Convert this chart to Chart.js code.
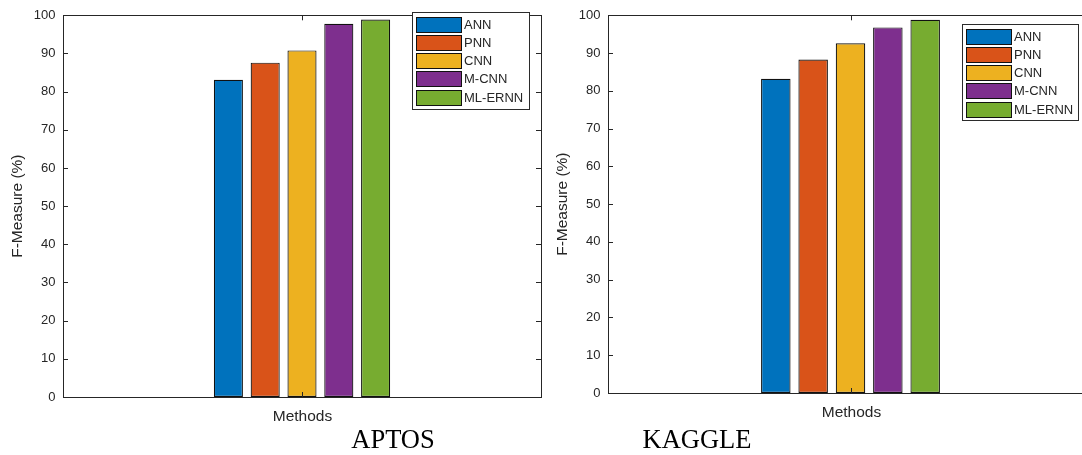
<!DOCTYPE html>
<html>
<head>
  <title>F-Measure comparison</title>
  <script src="https://cdn.jsdelivr.net/npm/chart.js"></script>
  <style>
    html, body { margin: 0; padding: 0; background: #fff; overflow: hidden; }
    #wrap { position: relative; width: 1082px; height: 455px; overflow: hidden; }
    canvas { position: absolute; top: 0; }
  </style>
</head>
<body>
  <div id="wrap">
    <canvas id="aptosChart" width="542" height="455" style="left:0px"></canvas>
    <canvas id="kaggleChart" width="553" height="455" style="left:541px"></canvas>
  </div>

  <script>
    // data
    const methods = ['ANN', 'PNN', 'CNN', 'M-CNN', 'ML-ERNN'];
    const aptosValues = [83.1, 87.6, 90.8, 97.8, 98.9];
    const kaggleValues = [83.2, 88.3, 92.6, 96.8, 98.8];
    const colors = ['#0072BD', '#D95319', '#EDB120', '#7E2F8E', '#77AC30'];
    const xLabel = 'Methods';
    const yLabel = 'F-Measure (%)';
    const yMin = 0, yMax = 100, yStep = 10;

    const axisColor = '#262626';
    const sans = '"Liberation Sans", Arial, sans-serif';
    const serif = '"Liberation Serif", "Times New Roman", serif';

    // matlab style box, inward ticks, labels, legend and caption
    const matlabLook = {
      id: 'matlabLook',
      afterDraw(chart, args, opts) {
        const ctx = chart.ctx;
        const a = chart.chartArea;
        const y = chart.scales.y;
        const x = chart.scales.x;
        ctx.save();
        ctx.strokeStyle = axisColor;
        ctx.lineWidth = 1;
        ctx.strokeRect(Math.round(a.left) + 0.5, Math.round(a.top) + 0.5,
          Math.round(a.right - a.left), Math.round(a.bottom - a.top));

        ctx.beginPath();
        y.ticks.forEach(t => {
          const py = Math.round(y.getPixelForValue(t.value)) + 0.5;
          ctx.moveTo(a.left, py); ctx.lineTo(a.left + 5, py);
          ctx.moveTo(a.right, py); ctx.lineTo(a.right - 5, py);
        });
        const px = Math.round(x.getPixelForValue(0)) + 0.5;
        ctx.moveTo(px, a.bottom); ctx.lineTo(px, a.bottom - 5);
        ctx.moveTo(px, a.top); ctx.lineTo(px, a.top + 5);
        ctx.stroke();

        // axis titles
        ctx.fillStyle = axisColor;
        ctx.font = '15.5px ' + sans;
        ctx.textAlign = 'center';
        ctx.textBaseline = 'alphabetic';
        ctx.fillText(xLabel, px, a.bottom + 24);
        ctx.save();
        ctx.translate(a.left - 45, (a.top + a.bottom) / 2);
        ctx.rotate(-Math.PI / 2);
        ctx.textBaseline = 'middle';
        ctx.fillText(yLabel, 0, 0);
        ctx.restore();

        // legend box
        const L = opts.legend;
        ctx.fillStyle = '#fff';
        ctx.fillRect(L.x, L.y, L.w, L.h);
        ctx.strokeStyle = '#2b2b2b';
        ctx.strokeRect(L.x + 0.5, L.y + 0.5, L.w, L.h);
        ctx.font = '13px ' + sans;
        ctx.textAlign = 'left';
        ctx.textBaseline = 'middle';
        chart.data.datasets.forEach((ds, i) => {
          const top = Math.round(L.y + 4.5 + i * 18.3);
          ctx.fillStyle = ds.backgroundColor;
          ctx.fillRect(L.x + 4, top, 45, 15);
          ctx.strokeStyle = '#111';
          ctx.strokeRect(L.x + 4.5, top + 0.5, 45, 15);
          ctx.fillStyle = axisColor;
          ctx.fillText(ds.label, L.x + 52, top + 8.5);
        });

        // panel caption
        ctx.fillStyle = '#000';
        ctx.font = '26.5px ' + serif;
        ctx.textAlign = 'center';
        ctx.textBaseline = 'alphabetic';
        ctx.fillText(opts.caption, opts.captionX, 448);
        ctx.restore();
      }
    };

    function makeChart(id, values, cfg) {
      const datasets = methods.map((m, i) => ({
        label: m,
        data: [values[i]],
        backgroundColor: colors[i],
        borderColor: '#111',
        borderWidth: 1.2,
        borderSkipped: false,
        barPercentage: 0.79,
        categoryPercentage: 0.385
      }));
      return new Chart(document.getElementById(id).getContext('2d'), {
        type: 'bar',
        data: { labels: [xLabel], datasets: datasets },
        plugins: [matlabLook],
        options: {
          responsive: false,
          animation: false,
          layout: { padding: { left: 0, right: cfg.padRight, top: cfg.top, bottom: 0 } },
          plugins: {
            legend: { display: false },
            tooltip: { enabled: false },
            matlabLook: { legend: cfg.legend, caption: cfg.caption, captionX: cfg.captionX }
          },
          scales: {
            x: {
              grid: { display: false },
              border: { display: false },
              ticks: { display: false },
              afterFit: s => { s.height = cfg.xHeight; }
            },
            y: {
              min: yMin,
              max: yMax,
              grid: { display: false, drawTicks: false },
              border: { display: false },
              ticks: {
                stepSize: yStep,
                padding: 7.5,
                color: axisColor,
                font: { family: sans, size: 13 }
              },
              afterFit: s => { s.width = cfg.yWidth; }
            }
          }
        }
      });
    }

    makeChart('aptosChart', aptosValues, {
      top: 11, padRight: 1, xHeight: 58, yWidth: 63,
      legend: { x: 412, y: 12, w: 117, h: 97 },
      caption: 'APTOS', captionX: 393
    });

    makeChart('kaggleChart', kaggleValues, {
      top: 12, padRight: 1, xHeight: 62, yWidth: 67,
      legend: { x: 421, y: 24, w: 116, h: 96 },
      caption: 'KAGGLE', captionX: 156
    });
  </script>
</body>
</html>
